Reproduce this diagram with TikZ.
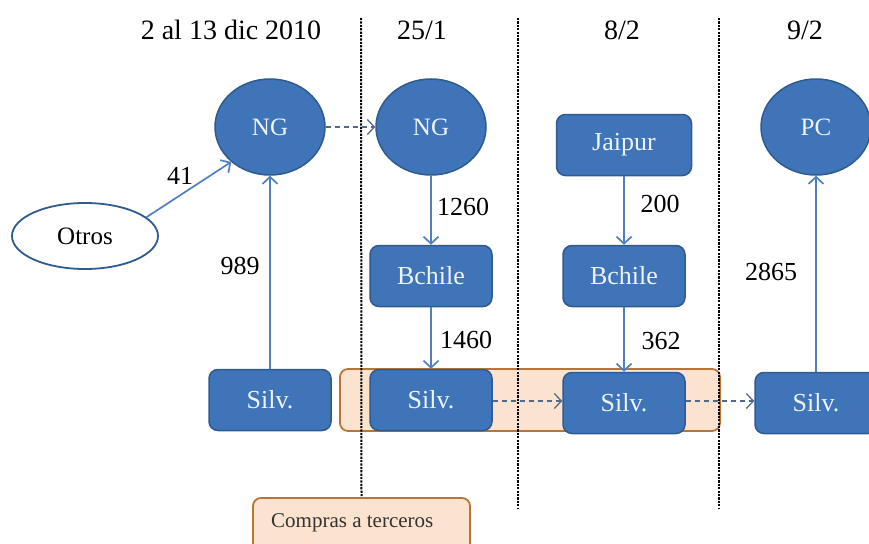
\documentclass[tikz,border=0pt]{standalone}
\usepackage{fontspec}
\setmainfont{Liberation Serif}
\usetikzlibrary{arrows.meta,shapes.geometric}
\definecolor{nodefill}{HTML}{3F74B8}
\definecolor{nodeborder}{HTML}{2F5B8E}
\definecolor{arrowblue}{HTML}{4F7FBF}
\definecolor{dashgray}{HTML}{53698A}
\definecolor{orangefill}{HTML}{FBE3CF}
\definecolor{orangeborder}{HTML}{B87636}
\definecolor{nodetext}{HTML}{EEF3FA}
\begin{document}
\begin{tikzpicture}[x=1pt,y=-1pt,
  blob/.style={ellipse, draw=nodeborder, fill=nodefill, line width=1.5pt,
    minimum width=110pt, minimum height=96pt, inner sep=0pt, text=nodetext,
    font=\fontsize{25}{27}\selectfont},
  rbox/.style={rectangle, rounded corners=9pt, draw=nodeborder, fill=nodefill,
    line width=1.5pt, inner sep=0pt, text=nodetext, minimum width=122pt,
    minimum height=61pt, font=\fontsize{26}{28}\selectfont},
  flow/.style={draw=arrowblue, line width=1.7pt, -{Straight Barb[length=7pt,width=15pt]}},
  carry/.style={draw=dashgray, line width=1.3pt, dash pattern=on 5pt off 4pt,
    -{Straight Barb[length=7pt,width=15pt]}},
  lbl/.style={font=\fontsize{26}{28}\selectfont, text=black, inner sep=0pt},
  ttl/.style={font=\fontsize{28}{30}\selectfont, text=black, inner sep=0pt},
  sep/.style={draw=black, line width=2pt, dash pattern=on 2.2pt off 1.2pt}]
\useasboundingbox (0,0) rectangle (869,543);

% titles
\node[ttl] (t1) at (231,30) {2 al 13 dic 2010};
\node[ttl] (t2) at (422,30) {25/1};
\node[ttl] (t3) at (622,30) {8/2};
\node[ttl] (t4) at (805,30) {9/2};

% orange group background
\node[rectangle, rounded corners=8pt, draw=orangeborder, fill=orangefill, line width=1.8pt,
  minimum width=380pt, minimum height=62pt, inner sep=0pt] (grp) at (530,400) {};

% Compras box
\node[rectangle, rounded corners=8pt, draw=orangeborder, fill=orangefill, line width=1.8pt,
  minimum width=217pt, minimum height=58pt, inner sep=0pt] (compras) at (361.5,527) {};
\node[anchor=west, inner sep=0pt, font=\fontsize{21}{23}\selectfont, text=black!80]
  (comprastxt) at (271,523) {Compras a terceros};

% separators
\coordinate (s1t) at (361,18);
\coordinate (s2t) at (518,18);
\coordinate (s2b) at (518,508);
\coordinate (s3t) at (719,18);
\coordinate (s3b) at (719,508);
\draw[sep] (s1t) -- (compras.north);
\draw[sep] (s2t) -- (s2b);
\draw[sep] (s3t) -- (s3b);

% nodes
\node[ellipse, draw=nodeborder, fill=white, line width=1.8pt, minimum width=146pt,
  minimum height=66pt, inner sep=0pt, font=\fontsize{25}{27}\selectfont] (otros) at (85,236) {Otros};
\node[blob] (ng1) at (270,127) {NG};
\node[blob] (ng2) at (431,127) {NG};
\node[blob] (pc) at (816,127) {PC};
\node[rbox, minimum width=135pt] (jaipur) at (624,145) {Jaipur};
\node[rbox] (bch1) at (431,276) {Bchile};
\node[rbox] (bch2) at (624,276) {Bchile};
\node[rbox] (silv1) at (270,400) {Silv.};
\node[rbox] (silv2) at (431,400) {Silv.};
\node[rbox] (silv3) at (624,403) {Silv.};
\node[rbox] (silv4) at (816,403) {Silv.};

% connectors
\draw[flow] (otros.17) -- (ng1.222);
\draw[flow] (silv1.north) -- (ng1.south);
\draw[carry] (ng1.east) -- (ng2.west);
\draw[flow] (ng2.south) -- (bch1.north);
\draw[flow] (bch1.south) -- (silv2.north);
\draw[flow] (jaipur.south) -- (bch2.north);
\draw[flow] (bch2.south) -- (silv3.north);
\draw[carry] (silv2.east |- 0,401) -- (silv3.west |- 0,401);
\draw[carry] (silv3.east |- 0,401) -- (silv4.west |- 0,401);
\draw[flow] (silv4.north) -- (pc.south);

% labels
\node[lbl] (l41) at (180,176) {41};
\node[lbl] (l989) at (240,266) {989};
\node[lbl] (l1260) at (463,207) {1260};
\node[lbl] (l1460) at (466,340) {1460};
\node[lbl] (l200) at (660,204) {200};
\node[lbl] (l362) at (661,341) {362};
\node[lbl] (l2865) at (771,272) {2865};
\end{tikzpicture}
\end{document}
